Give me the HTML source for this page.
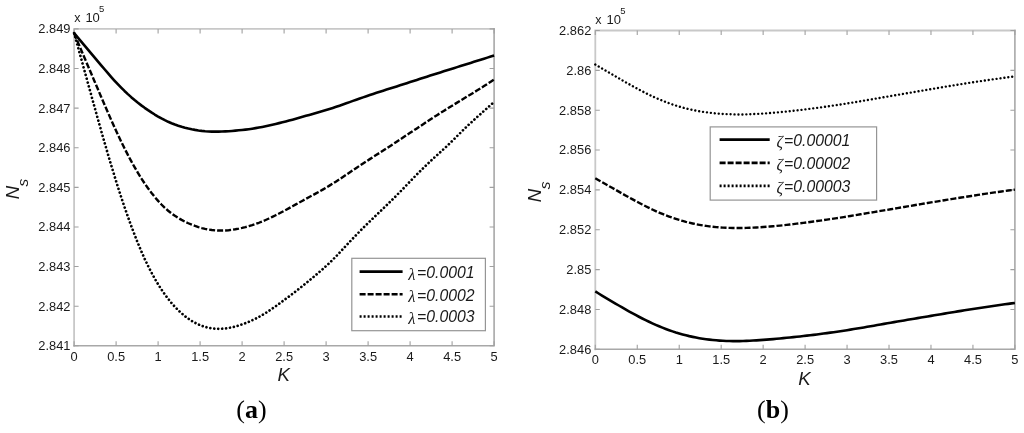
<!DOCTYPE html><html><head><meta charset="utf-8"><style>html,body{margin:0;padding:0;background:#fff;}svg{display:block;will-change:transform}</style></head><body>
<div id="w"><svg width="1024" height="433" viewBox="0 0 1024 433" font-family="Liberation Sans, sans-serif">
<rect width="1024" height="433" fill="#fff"/>
<g fill="none" stroke-linecap="square">
<path d="M74.1,345.8V28.9H494.1" stroke="#c8c8c8" stroke-width="1.8"/>
<path d="M74.1,345.8H494.1V28.9" stroke="#a8a8a8" stroke-width="1.6"/>
<path d="M74.10,345.8v-4.5M74.10,28.9v4.5M116.10,345.8v-4.5M116.10,28.9v4.5M158.10,345.8v-4.5M158.10,28.9v4.5M200.10,345.8v-4.5M200.10,28.9v4.5M242.10,345.8v-4.5M242.10,28.9v4.5M284.10,345.8v-4.5M284.10,28.9v4.5M326.10,345.8v-4.5M326.10,28.9v4.5M368.10,345.8v-4.5M368.10,28.9v4.5M410.10,345.8v-4.5M410.10,28.9v4.5M452.10,345.8v-4.5M452.10,28.9v4.5M494.10,345.8v-4.5M494.10,28.9v4.5M74.1,28.90h4.5M494.1,28.90h-4.5M74.1,68.51h4.5M494.1,68.51h-4.5M74.1,108.12h4.5M494.1,108.12h-4.5M74.1,147.74h4.5M494.1,147.74h-4.5M74.1,187.35h4.5M494.1,187.35h-4.5M74.1,226.96h4.5M494.1,226.96h-4.5M74.1,266.57h4.5M494.1,266.57h-4.5M74.1,306.19h4.5M494.1,306.19h-4.5M74.1,345.80h4.5M494.1,345.80h-4.5" stroke="#a0a0a0" stroke-width="1.1" stroke-linecap="butt"/>
</g>
<g font-size="12.5" fill="#1a1a1a">
<text transform="translate(70.5,33.30) scale(1.03,1)" text-anchor="end">2.849</text>
<text transform="translate(70.5,72.91) scale(1.03,1)" text-anchor="end">2.848</text>
<text transform="translate(70.5,112.53) scale(1.03,1)" text-anchor="end">2.847</text>
<text transform="translate(70.5,152.14) scale(1.03,1)" text-anchor="end">2.846</text>
<text transform="translate(70.5,191.75) scale(1.03,1)" text-anchor="end">2.845</text>
<text transform="translate(70.5,231.36) scale(1.03,1)" text-anchor="end">2.844</text>
<text transform="translate(70.5,270.97) scale(1.03,1)" text-anchor="end">2.843</text>
<text transform="translate(70.5,310.59) scale(1.03,1)" text-anchor="end">2.842</text>
<text transform="translate(70.5,350.20) scale(1.03,1)" text-anchor="end">2.841</text>
<text transform="translate(74.10,361.2) scale(1.03,1)" text-anchor="middle">0</text>
<text transform="translate(116.10,361.2) scale(1.03,1)" text-anchor="middle">0.5</text>
<text transform="translate(158.10,361.2) scale(1.03,1)" text-anchor="middle">1</text>
<text transform="translate(200.10,361.2) scale(1.03,1)" text-anchor="middle">1.5</text>
<text transform="translate(242.10,361.2) scale(1.03,1)" text-anchor="middle">2</text>
<text transform="translate(284.10,361.2) scale(1.03,1)" text-anchor="middle">2.5</text>
<text transform="translate(326.10,361.2) scale(1.03,1)" text-anchor="middle">3</text>
<text transform="translate(368.10,361.2) scale(1.03,1)" text-anchor="middle">3.5</text>
<text transform="translate(410.10,361.2) scale(1.03,1)" text-anchor="middle">4</text>
<text transform="translate(452.10,361.2) scale(1.03,1)" text-anchor="middle">4.5</text>
<text transform="translate(494.10,361.2) scale(1.03,1)" text-anchor="middle">5</text>
</g>
<g fill="none" stroke-linecap="square">
<path d="M595.3,349.3V30.5H1014.9" stroke="#c8c8c8" stroke-width="1.8"/>
<path d="M595.3,349.3H1014.9V30.5" stroke="#a8a8a8" stroke-width="1.6"/>
<path d="M595.30,349.3v-4.5M595.30,30.5v4.5M637.26,349.3v-4.5M637.26,30.5v4.5M679.22,349.3v-4.5M679.22,30.5v4.5M721.18,349.3v-4.5M721.18,30.5v4.5M763.14,349.3v-4.5M763.14,30.5v4.5M805.10,349.3v-4.5M805.10,30.5v4.5M847.06,349.3v-4.5M847.06,30.5v4.5M889.02,349.3v-4.5M889.02,30.5v4.5M930.98,349.3v-4.5M930.98,30.5v4.5M972.94,349.3v-4.5M972.94,30.5v4.5M1014.90,349.3v-4.5M1014.90,30.5v4.5M595.3,30.50h4.5M1014.9,30.50h-4.5M595.3,70.35h4.5M1014.9,70.35h-4.5M595.3,110.20h4.5M1014.9,110.20h-4.5M595.3,150.05h4.5M1014.9,150.05h-4.5M595.3,189.90h4.5M1014.9,189.90h-4.5M595.3,229.75h4.5M1014.9,229.75h-4.5M595.3,269.60h4.5M1014.9,269.60h-4.5M595.3,309.45h4.5M1014.9,309.45h-4.5M595.3,349.30h4.5M1014.9,349.30h-4.5" stroke="#a0a0a0" stroke-width="1.1" stroke-linecap="butt"/>
</g>
<g font-size="12.5" fill="#1a1a1a">
<text transform="translate(591.3,34.90) scale(1.03,1)" text-anchor="end">2.862</text>
<text transform="translate(591.3,74.75) scale(1.03,1)" text-anchor="end">2.86</text>
<text transform="translate(591.3,114.60) scale(1.03,1)" text-anchor="end">2.858</text>
<text transform="translate(591.3,154.45) scale(1.03,1)" text-anchor="end">2.856</text>
<text transform="translate(591.3,194.30) scale(1.03,1)" text-anchor="end">2.854</text>
<text transform="translate(591.3,234.15) scale(1.03,1)" text-anchor="end">2.852</text>
<text transform="translate(591.3,274.00) scale(1.03,1)" text-anchor="end">2.85</text>
<text transform="translate(591.3,313.85) scale(1.03,1)" text-anchor="end">2.848</text>
<text transform="translate(591.3,353.70) scale(1.03,1)" text-anchor="end">2.846</text>
<text transform="translate(595.30,364.4) scale(1.03,1)" text-anchor="middle">0</text>
<text transform="translate(637.26,364.4) scale(1.03,1)" text-anchor="middle">0.5</text>
<text transform="translate(679.22,364.4) scale(1.03,1)" text-anchor="middle">1</text>
<text transform="translate(721.18,364.4) scale(1.03,1)" text-anchor="middle">1.5</text>
<text transform="translate(763.14,364.4) scale(1.03,1)" text-anchor="middle">2</text>
<text transform="translate(805.10,364.4) scale(1.03,1)" text-anchor="middle">2.5</text>
<text transform="translate(847.06,364.4) scale(1.03,1)" text-anchor="middle">3</text>
<text transform="translate(889.02,364.4) scale(1.03,1)" text-anchor="middle">3.5</text>
<text transform="translate(930.98,364.4) scale(1.03,1)" text-anchor="middle">4</text>
<text transform="translate(972.94,364.4) scale(1.03,1)" text-anchor="middle">4.5</text>
<text transform="translate(1014.90,364.4) scale(1.03,1)" text-anchor="middle">5</text>
</g>
<path d="M74.10,33.05 L77.46,37.08 L80.82,41.09 L84.18,45.09 L87.54,49.08 L90.90,53.07 L94.26,57.06 L97.62,61.06 L100.98,65.06 L104.34,69.03 L107.70,72.95 L111.06,76.79 L114.42,80.53 L117.78,84.14 L121.14,87.62 L124.50,90.95 L127.86,94.12 L131.22,97.14 L134.58,100.02 L137.94,102.76 L141.30,105.35 L144.66,107.82 L148.02,110.16 L151.38,112.39 L154.74,114.51 L158.10,116.52 L161.46,118.42 L164.82,120.18 L168.18,121.80 L171.54,123.26 L174.90,124.58 L178.26,125.76 L181.62,126.81 L184.98,127.75 L188.34,128.57 L191.70,129.28 L195.06,129.90 L198.42,130.43 L201.78,130.86 L205.14,131.20 L208.50,131.45 L211.86,131.61 L215.22,131.67 L218.58,131.66 L221.94,131.56 L225.30,131.40 L228.66,131.18 L232.02,130.93 L235.38,130.65 L238.74,130.33 L242.10,129.98 L245.46,129.60 L248.82,129.17 L252.18,128.69 L255.54,128.15 L258.90,127.56 L262.26,126.91 L265.62,126.21 L268.98,125.48 L272.34,124.71 L275.70,123.93 L279.06,123.13 L282.42,122.30 L285.78,121.45 L289.14,120.56 L292.50,119.66 L295.86,118.73 L299.22,117.79 L302.58,116.83 L305.94,115.87 L309.30,114.90 L312.66,113.92 L316.02,112.94 L319.38,111.96 L322.74,110.97 L326.10,109.99 L329.46,108.99 L332.82,107.95 L336.18,106.85 L339.54,105.70 L342.90,104.52 L346.26,103.32 L349.62,102.10 L352.98,100.90 L356.34,99.70 L359.70,98.52 L363.06,97.36 L366.42,96.21 L369.78,95.07 L373.14,93.95 L376.50,92.84 L379.86,91.75 L383.22,90.68 L386.58,89.61 L389.94,88.54 L393.30,87.47 L396.66,86.40 L400.02,85.33 L403.38,84.24 L406.74,83.16 L410.10,82.08 L413.46,80.99 L416.82,79.90 L420.18,78.82 L423.54,77.74 L426.90,76.66 L430.26,75.59 L433.62,74.52 L436.98,73.46 L440.34,72.40 L443.70,71.34 L447.06,70.29 L450.42,69.23 L453.78,68.18 L457.14,67.12 L460.50,66.06 L463.86,65.00 L467.22,63.95 L470.58,62.89 L473.94,61.83 L477.30,60.78 L480.66,59.72 L484.02,58.67 L487.38,57.62 L490.74,56.58 L494.10,55.53" fill="none" stroke="#000" stroke-width="2.6" stroke-linejoin="round"/>
<path d="M74.10,33.20 L77.46,41.17 L80.82,49.11 L84.18,57.03 L87.54,64.92 L90.90,72.79 L94.26,80.67 L97.62,88.55 L100.98,96.41 L104.34,104.24 L107.70,111.98 L111.06,119.61 L114.42,127.09 L117.78,134.40 L121.14,141.49 L124.50,148.34 L127.86,154.91 L131.22,161.19 L134.58,167.19 L137.94,172.90 L141.30,178.32 L144.66,183.44 L148.02,188.26 L151.38,192.77 L154.74,196.97 L158.10,200.88 L161.46,204.48 L164.82,207.79 L168.18,210.77 L171.54,213.45 L174.90,215.84 L178.26,217.98 L181.62,219.90 L184.98,221.65 L188.34,223.24 L191.70,224.67 L195.06,225.95 L198.42,227.08 L201.78,228.05 L205.14,228.86 L208.50,229.51 L211.86,230.00 L215.22,230.34 L218.58,230.53 L221.94,230.56 L225.30,230.45 L228.66,230.19 L232.02,229.80 L235.38,229.30 L238.74,228.67 L242.10,227.95 L245.46,227.11 L248.82,226.18 L252.18,225.14 L255.54,224.00 L258.90,222.76 L262.26,221.42 L265.62,219.99 L268.98,218.48 L272.34,216.89 L275.70,215.24 L279.06,213.53 L282.42,211.77 L285.78,209.96 L289.14,208.13 L292.50,206.27 L295.86,204.41 L299.22,202.54 L302.58,200.69 L305.94,198.85 L309.30,197.03 L312.66,195.22 L316.02,193.39 L319.38,191.53 L322.74,189.62 L326.10,187.65 L329.46,185.62 L332.82,183.54 L336.18,181.40 L339.54,179.22 L342.90,177.00 L346.26,174.75 L349.62,172.47 L352.98,170.19 L356.34,167.92 L359.70,165.67 L363.06,163.46 L366.42,161.29 L369.78,159.13 L373.14,156.99 L376.50,154.85 L379.86,152.70 L383.22,150.53 L386.58,148.34 L389.94,146.14 L393.30,143.93 L396.66,141.71 L400.02,139.50 L403.38,137.27 L406.74,135.05 L410.10,132.83 L413.46,130.60 L416.82,128.38 L420.18,126.16 L423.54,123.94 L426.90,121.72 L430.26,119.51 L433.62,117.31 L436.98,115.15 L440.34,113.02 L443.70,110.92 L447.06,108.83 L450.42,106.74 L453.78,104.67 L457.14,102.61 L460.50,100.57 L463.86,98.53 L467.22,96.49 L470.58,94.45 L473.94,92.40 L477.30,90.33 L480.66,88.23 L484.02,86.09 L487.38,83.92 L490.74,81.73 L494.10,79.52" fill="none" stroke="#000" stroke-width="2.4" stroke-linejoin="round" stroke-dasharray="6 2"/>
<path d="M74.10,33.02 L77.46,45.21 L80.82,57.40 L84.18,69.58 L87.54,81.76 L90.90,93.93 L94.26,106.06 L97.62,118.12 L100.98,130.07 L104.34,141.85 L107.70,153.43 L111.06,164.77 L114.42,175.83 L117.78,186.56 L121.14,196.95 L124.50,206.98 L127.86,216.64 L131.22,225.91 L134.58,234.78 L137.94,243.23 L141.30,251.23 L144.66,258.80 L148.02,265.89 L151.38,272.49 L154.74,278.61 L158.10,284.28 L161.46,289.53 L164.82,294.38 L168.18,298.86 L171.54,302.98 L174.90,306.77 L178.26,310.23 L181.62,313.36 L184.98,316.16 L188.34,318.66 L191.70,320.87 L195.06,322.79 L198.42,324.44 L201.78,325.81 L205.14,326.91 L208.50,327.76 L211.86,328.35 L215.22,328.71 L218.58,328.84 L221.94,328.75 L225.30,328.45 L228.66,327.97 L232.02,327.29 L235.38,326.45 L238.74,325.47 L242.10,324.36 L245.46,323.14 L248.82,321.80 L252.18,320.33 L255.54,318.72 L258.90,316.97 L262.26,315.07 L265.62,313.03 L268.98,310.86 L272.34,308.58 L275.70,306.22 L279.06,303.79 L282.42,301.33 L285.78,298.85 L289.14,296.35 L292.50,293.81 L295.86,291.23 L299.22,288.60 L302.58,285.92 L305.94,283.21 L309.30,280.46 L312.66,277.68 L316.02,274.88 L319.38,272.01 L322.74,269.08 L326.10,266.06 L329.46,262.93 L332.82,259.66 L336.18,256.25 L339.54,252.70 L342.90,249.09 L346.26,245.48 L349.62,241.91 L352.98,238.36 L356.34,234.85 L359.70,231.39 L363.06,228.00 L366.42,224.66 L369.78,221.38 L373.14,218.14 L376.50,214.93 L379.86,211.73 L383.22,208.51 L386.58,205.27 L389.94,201.99 L393.30,198.68 L396.66,195.32 L400.02,191.90 L403.38,188.44 L406.74,184.93 L410.10,181.42 L413.46,177.95 L416.82,174.52 L420.18,171.14 L423.54,167.82 L426.90,164.55 L430.26,161.36 L433.62,158.23 L436.98,155.17 L440.34,152.13 L443.70,149.08 L447.06,145.95 L450.42,142.71 L453.78,139.39 L457.14,136.05 L460.50,132.72 L463.86,129.42 L467.22,126.17 L470.58,123.01 L473.94,119.93 L477.30,116.91 L480.66,113.91 L484.02,110.91 L487.38,107.92 L490.74,104.92 L494.10,101.92" fill="none" stroke="#000" stroke-width="2.7" stroke-linejoin="round" stroke-dasharray="0.001 3.95" stroke-linecap="round"/>
<path d="M595.30,291.47 L598.66,293.50 L602.01,295.52 L605.37,297.54 L608.73,299.55 L612.08,301.55 L615.44,303.53 L618.80,305.50 L622.15,307.45 L625.51,309.38 L628.87,311.27 L632.22,313.14 L635.58,314.96 L638.94,316.74 L642.30,318.47 L645.65,320.14 L649.01,321.77 L652.37,323.33 L655.72,324.84 L659.08,326.28 L662.44,327.65 L665.79,328.96 L669.15,330.20 L672.51,331.36 L675.86,332.46 L679.22,333.48 L682.58,334.42 L685.93,335.30 L689.29,336.12 L692.65,336.86 L696.00,337.54 L699.36,338.16 L702.72,338.71 L706.07,339.20 L709.43,339.63 L712.79,340.01 L716.14,340.33 L719.50,340.59 L722.86,340.80 L726.22,340.96 L729.57,341.07 L732.93,341.13 L736.29,341.14 L739.64,341.10 L743.00,341.02 L746.36,340.91 L749.71,340.76 L753.07,340.57 L756.43,340.37 L759.78,340.14 L763.14,339.90 L766.50,339.64 L769.85,339.36 L773.21,339.08 L776.57,338.78 L779.92,338.48 L783.28,338.16 L786.64,337.83 L789.99,337.50 L793.35,337.15 L796.71,336.79 L800.06,336.42 L803.42,336.04 L806.78,335.65 L810.14,335.26 L813.49,334.85 L816.85,334.44 L820.21,334.01 L823.56,333.57 L826.92,333.12 L830.28,332.66 L833.63,332.19 L836.99,331.70 L840.35,331.20 L843.70,330.69 L847.06,330.17 L850.42,329.64 L853.77,329.09 L857.13,328.54 L860.49,327.98 L863.84,327.41 L867.20,326.83 L870.56,326.25 L873.91,325.67 L877.27,325.08 L880.63,324.49 L883.98,323.90 L887.34,323.31 L890.70,322.73 L894.06,322.15 L897.41,321.57 L900.77,320.99 L904.13,320.42 L907.48,319.84 L910.84,319.27 L914.20,318.70 L917.55,318.13 L920.91,317.56 L924.27,317.00 L927.62,316.43 L930.98,315.87 L934.34,315.30 L937.69,314.74 L941.05,314.18 L944.41,313.62 L947.76,313.06 L951.12,312.51 L954.48,311.95 L957.83,311.40 L961.19,310.85 L964.55,310.31 L967.90,309.77 L971.26,309.24 L974.62,308.71 L977.98,308.20 L981.33,307.69 L984.69,307.19 L988.05,306.70 L991.40,306.21 L994.76,305.73 L998.12,305.26 L1001.47,304.79 L1004.83,304.32 L1008.19,303.86 L1011.54,303.39 L1014.90,302.93" fill="none" stroke="#000" stroke-width="2.6" stroke-linejoin="round"/>
<path d="M595.30,178.29 L598.66,180.20 L602.01,182.11 L605.37,184.02 L608.73,185.92 L612.08,187.83 L615.44,189.74 L618.80,191.64 L622.15,193.54 L625.51,195.43 L628.87,197.30 L632.22,199.16 L635.58,200.98 L638.94,202.78 L642.30,204.53 L645.65,206.25 L649.01,207.91 L652.37,209.52 L655.72,211.07 L659.08,212.55 L662.44,213.96 L665.79,215.30 L669.15,216.57 L672.51,217.77 L675.86,218.90 L679.22,219.96 L682.58,220.94 L685.93,221.86 L689.29,222.70 L692.65,223.47 L696.00,224.18 L699.36,224.82 L702.72,225.39 L706.07,225.91 L709.43,226.36 L712.79,226.75 L716.14,227.08 L719.50,227.37 L722.86,227.60 L726.22,227.78 L729.57,227.91 L732.93,228.00 L736.29,228.04 L739.64,228.04 L743.00,227.99 L746.36,227.91 L749.71,227.80 L753.07,227.65 L756.43,227.47 L759.78,227.27 L763.14,227.04 L766.50,226.79 L769.85,226.52 L773.21,226.23 L776.57,225.92 L779.92,225.59 L783.28,225.24 L786.64,224.87 L789.99,224.49 L793.35,224.09 L796.71,223.68 L800.06,223.26 L803.42,222.84 L806.78,222.40 L810.14,221.96 L813.49,221.52 L816.85,221.06 L820.21,220.60 L823.56,220.12 L826.92,219.64 L830.28,219.15 L833.63,218.64 L836.99,218.13 L840.35,217.60 L843.70,217.07 L847.06,216.53 L850.42,215.98 L853.77,215.42 L857.13,214.86 L860.49,214.30 L863.84,213.74 L867.20,213.18 L870.56,212.62 L873.91,212.06 L877.27,211.50 L880.63,210.94 L883.98,210.38 L887.34,209.82 L890.70,209.25 L894.06,208.69 L897.41,208.12 L900.77,207.55 L904.13,206.98 L907.48,206.41 L910.84,205.83 L914.20,205.26 L917.55,204.68 L920.91,204.11 L924.27,203.55 L927.62,202.98 L930.98,202.42 L934.34,201.86 L937.69,201.31 L941.05,200.76 L944.41,200.22 L947.76,199.68 L951.12,199.14 L954.48,198.60 L957.83,198.07 L961.19,197.54 L964.55,197.01 L967.90,196.48 L971.26,195.96 L974.62,195.44 L977.98,194.92 L981.33,194.41 L984.69,193.91 L988.05,193.41 L991.40,192.92 L994.76,192.43 L998.12,191.95 L1001.47,191.48 L1004.83,191.01 L1008.19,190.54 L1011.54,190.08 L1014.90,189.61" fill="none" stroke="#000" stroke-width="2.4" stroke-linejoin="round" stroke-dasharray="6 2"/>
<path d="M595.30,64.54 L598.66,66.51 L602.01,68.48 L605.37,70.44 L608.73,72.40 L612.08,74.36 L615.44,76.31 L618.80,78.26 L622.15,80.20 L625.51,82.12 L628.87,84.03 L632.22,85.90 L635.58,87.75 L638.94,89.55 L642.30,91.32 L645.65,93.04 L649.01,94.71 L652.37,96.31 L655.72,97.85 L659.08,99.32 L662.44,100.71 L665.79,102.04 L669.15,103.28 L672.51,104.46 L675.86,105.56 L679.22,106.58 L682.58,107.53 L685.93,108.41 L689.29,109.22 L692.65,109.96 L696.00,110.64 L699.36,111.25 L702.72,111.81 L706.07,112.30 L709.43,112.74 L712.79,113.13 L716.14,113.46 L719.50,113.74 L722.86,113.97 L726.22,114.15 L729.57,114.29 L732.93,114.39 L736.29,114.44 L739.64,114.45 L743.00,114.42 L746.36,114.35 L749.71,114.25 L753.07,114.12 L756.43,113.96 L759.78,113.77 L763.14,113.56 L766.50,113.33 L769.85,113.07 L773.21,112.80 L776.57,112.50 L779.92,112.19 L783.28,111.87 L786.64,111.53 L789.99,111.17 L793.35,110.81 L796.71,110.43 L800.06,110.03 L803.42,109.63 L806.78,109.22 L810.14,108.79 L813.49,108.36 L816.85,107.91 L820.21,107.46 L823.56,106.99 L826.92,106.52 L830.28,106.03 L833.63,105.53 L836.99,105.03 L840.35,104.51 L843.70,103.99 L847.06,103.46 L850.42,102.91 L853.77,102.37 L857.13,101.81 L860.49,101.25 L863.84,100.68 L867.20,100.11 L870.56,99.53 L873.91,98.95 L877.27,98.37 L880.63,97.79 L883.98,97.20 L887.34,96.62 L890.70,96.04 L894.06,95.46 L897.41,94.88 L900.77,94.30 L904.13,93.72 L907.48,93.15 L910.84,92.57 L914.20,92.00 L917.55,91.42 L920.91,90.85 L924.27,90.28 L927.62,89.71 L930.98,89.14 L934.34,88.58 L937.69,88.01 L941.05,87.45 L944.41,86.89 L947.76,86.33 L951.12,85.78 L954.48,85.23 L957.83,84.69 L961.19,84.15 L964.55,83.62 L967.90,83.09 L971.26,82.57 L974.62,82.05 L977.98,81.54 L981.33,81.05 L984.69,80.55 L988.05,80.07 L991.40,79.59 L994.76,79.12 L998.12,78.65 L1001.47,78.19 L1004.83,77.73 L1008.19,77.27 L1011.54,76.81 L1014.90,76.36" fill="none" stroke="#000" stroke-width="2.4" stroke-linejoin="round" stroke-dasharray="0.001 3.95" stroke-linecap="round"/>
<g fill="#1a1a1a" font-size="12.5"><text x="74.2" y="21.8">x</text><text x="85.4" y="21.8" font-size="13">10</text><text x="99" y="12.3" font-size="9.5">5</text>
<text x="595.2" y="23.8">x</text><text x="606.6" y="23.8" font-size="13">10</text><text x="620.2" y="14.3" font-size="9.5">5</text></g>
<g fill="#1a1a1a" font-style="italic" font-size="18.6">
<text x="283.7" y="381.4" text-anchor="middle">K</text>
<text x="804.5" y="385.1" text-anchor="middle">K</text>
<text transform="translate(19.4,199.3) rotate(-90)">N<tspan font-size="15.5" dy="9" dx="-0.6">s</tspan></text>
<text transform="translate(540.7,202.3) rotate(-90)">N<tspan font-size="15.5" dy="9" dx="-0.3">s</tspan></text>
</g>
<rect x="351.8" y="258.3" width="133.59999999999997" height="72.39999999999998" fill="#fff" stroke="#959595" stroke-width="1.2"/>
<path d="M359.6,271.6H402.6" stroke="#000" stroke-width="2.6"/>
<path d="M359.6,294.3H402.6" stroke="#000" stroke-width="2.6" stroke-dasharray="6 2"/>
<path d="M359.6,316.5H402.6" stroke="#000" stroke-width="2.6" stroke-dasharray="2 2"/>
<text transform="translate(408.3,278.0) scale(1.0,1)" font-size="15.8" font-style="italic" fill="#1a1a1a"><tspan font-family="Liberation Serif, serif" font-size="16.5" dy="1.6">λ</tspan><tspan dx="1.6" dy="-1.6">=0.0001</tspan></text>
<text transform="translate(408.3,300.6) scale(1.0,1)" font-size="15.8" font-style="italic" fill="#1a1a1a"><tspan font-family="Liberation Serif, serif" font-size="16.5" dy="1.6">λ</tspan><tspan dx="1.6" dy="-1.6">=0.0002</tspan></text>
<text transform="translate(408.3,322.3) scale(1.0,1)" font-size="15.8" font-style="italic" fill="#1a1a1a"><tspan font-family="Liberation Serif, serif" font-size="16.5" dy="1.6">λ</tspan><tspan dx="1.6" dy="-1.6">=0.0003</tspan></text>
<rect x="710.2" y="126.9" width="166.39999999999998" height="73.19999999999999" fill="#fff" stroke="#959595" stroke-width="1.2"/>
<path d="M719.6,139.6H769.7" stroke="#000" stroke-width="2.6"/>
<path d="M719.6,162.9H769.7" stroke="#000" stroke-width="2.6" stroke-dasharray="6 2"/>
<path d="M719.6,185.9H769.7" stroke="#000" stroke-width="2.6" stroke-dasharray="2 2"/>
<text transform="translate(776.5,145.5) scale(1.0,1)" font-size="15.8" font-style="italic" fill="#1a1a1a"><tspan font-family="Liberation Serif, serif" font-size="16" dy="1.0">ζ</tspan><tspan dx="1.0" dy="-1.0">=0.00001</tspan></text>
<text transform="translate(776.5,168.5) scale(1.0,1)" font-size="15.8" font-style="italic" fill="#1a1a1a"><tspan font-family="Liberation Serif, serif" font-size="16" dy="1.0">ζ</tspan><tspan dx="1.0" dy="-1.0">=0.00002</tspan></text>
<text transform="translate(776.5,191.5) scale(1.0,1)" font-size="15.8" font-style="italic" fill="#1a1a1a"><tspan font-family="Liberation Serif, serif" font-size="16" dy="1.0">ζ</tspan><tspan dx="1.0" dy="-1.0">=0.00003</tspan></text>
<g font-family="Liberation Serif, serif" font-weight="bold" font-size="26" fill="#000">
<text x="251.5" y="418" text-anchor="middle"><tspan font-weight="normal">(</tspan>a<tspan font-weight="normal">)</tspan></text>
<text x="773" y="418" text-anchor="middle"><tspan font-weight="normal">(</tspan>b<tspan font-weight="normal">)</tspan></text>
</g>
</svg></div></body></html>
